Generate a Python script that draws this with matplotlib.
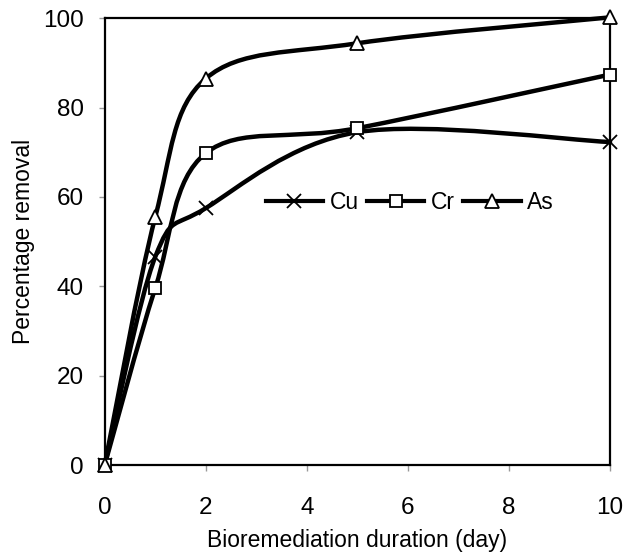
import numpy as np
import matplotlib.pyplot as plt
from matplotlib.path import Path
from matplotlib.patches import PathPatch
from matplotlib.lines import Line2D

plt.rcParams['font.family'] = ['Liberation Sans', 'DejaVu Sans']

# sampling days and percentage removal
days = [0, 1, 2, 5, 10]
cu = [0, 46.6, 57.5, 74.5, 72.3]
cr = [0, 39.6, 69.8, 75.4, 87.4]
as_ = [0, 55.5, 86.5, 94.4, 100.2]

series = [
    ('Cu', cu, 'x', 'none'),
    ('Cr', cr, 's', 'white'),
    ('As', as_, '^', 'white'),
]


def smooth_path(xs, ys, sx, sy):
    """Excel-like smoothed line: cubic Bezier segments through the points."""
    p = np.column_stack([np.asarray(xs, float) * sx, np.asarray(ys, float) * sy])
    n = len(p)
    verts = [p[0]]
    codes = [Path.MOVETO]
    for i in range(n - 1):
        p0 = p[i - 1] if i > 0 else p[i]
        p3 = p[i + 2] if i + 2 < n else p[i + 1]
        c1 = p[i] + (p[i + 1] - p0) / 6.0
        c2 = p[i + 1] - (p3 - p[i]) / 6.0
        verts += [c1, c2, p[i + 1]]
        codes += [Path.CURVE4] * 3
    verts = np.array(verts)
    verts[:, 0] /= sx
    verts[:, 1] /= sy
    return Path(verts, codes)


fig = plt.figure(figsize=(6.27, 5.53), dpi=100)
ax = fig.add_axes([0.167, 0.159, 0.806, 0.808])

msize = {'x': 10.5, 's': 9, '^': 10}
handles = []
for name, vals, mk, fc in series:
    path = smooth_path(days, vals, 50.5, 4.47)
    ax.add_patch(PathPatch(path, facecolor='none', edgecolor='black', lw=3.2,
                           zorder=2, clip_on=False, capstyle='round'))
    ax.plot(days, vals, linestyle='none', marker=mk, markersize=msize[mk],
            markerfacecolor=fc, markeredgecolor='black', markeredgewidth=1.3,
            zorder=3, clip_on=False)
    handles.append(Line2D([], [], color='black', lw=3, marker=mk,
                          markersize=msize[mk],
                          markerfacecolor=fc, markeredgecolor='black',
                          markeredgewidth=1.3, label=name))

ax.set_xlim(0, 10)
ax.set_ylim(0, 100)
ax.set_xticks([0, 2, 4, 6, 8, 10])
ax.set_yticks([0, 20, 40, 60, 80, 100])
ax.tick_params(axis='both', direction='out', length=4, width=1,
               color='#999999', labelsize=17.5)
ax.tick_params(axis='x', pad=19)
ax.tick_params(axis='y', pad=11)
for sp in ax.spines.values():
    sp.set_linewidth(1.6)
    sp.set_color('black')

ax.set_xlabel('Bioremediation duration (day)', fontsize=16.5, labelpad=7)
ax.set_ylabel('Percentage removal', fontsize=16.5, labelpad=6)

ax.legend(handles=handles, loc='center', bbox_to_anchor=(0.604, 0.588),
          ncol=3, frameon=False, fontsize=16.5, handlelength=2.5,
          handletextpad=0.3, columnspacing=0.35, borderpad=0)

fig.savefig('out.png', dpi=100)
